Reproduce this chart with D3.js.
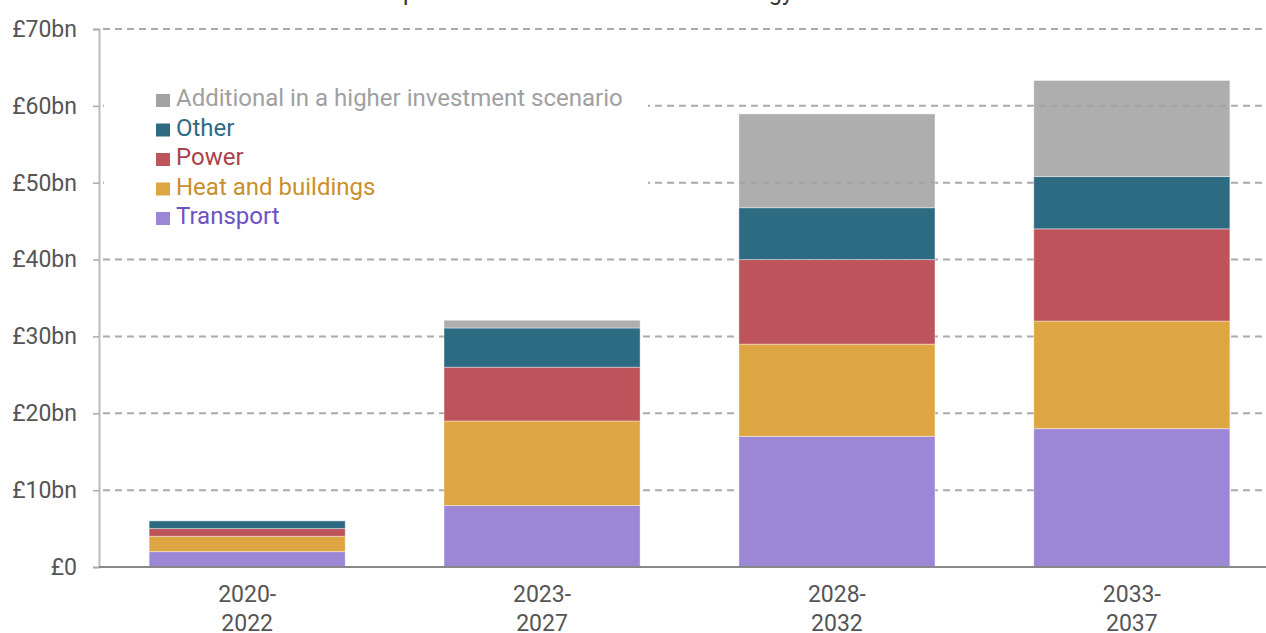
<!DOCTYPE html>
<html>
<head>
<meta charset="utf-8">
<script src="https://cdn.jsdelivr.net/npm/d3@7"></script>
<style>
	body { margin: 0; background: #fff; }
	svg { display: block; font-family: Roboto, "Open Sans", sans-serif; }
</style>
</head>
<body>
<div id="chart"></div>
<script>
const periods = ["2020-2022", "2023-2027", "2028-2032", "2033-2037"];
const transport = [2, 8, 17, 18];
const heat = [2, 11, 12, 14];
const power = [1, 7, 11, 12];
const other = [1, 5.1, 6.75, 6.8];
const additional = [0, 1, 12.2, 12.5];
const yTicks = [0, 10, 20, 30, 40, 50, 60, 70];

const series = [
	{ key: "transport", label: "Transport", values: transport, fill: "#9b87d6", text: "#6d52c4" },
	{ key: "heat", label: "Heat and buildings", values: heat, fill: "#dea642", text: "#c98f2c" },
	{ key: "power", label: "Power", values: power, fill: "#bd545c", text: "#a8434b" },
	{ key: "other", label: "Other", values: other, fill: "#2d6b82", text: "#2d6b82" },
	{ key: "additional", label: "Additional in a higher investment scenario", values: additional, fill: "#a3a3a3", text: "#a0a0a0" }
];

const width = 1266,
	height = 633;

const rows = periods.map((p, i) => {
	const r = { period: p };
	series.forEach((s) => (r[s.key] = s.values[i]));
	return r;
});

const svg = d3
	.select("#chart")
	.append("svg")
	.attr("width", width)
	.attr("height", height);

const x = d3
	.scaleBand()
	.domain(periods)
	.range([99, 1280])
	.paddingInner(0.335)
	.paddingOuter(0.17);

const y = d3.scaleLinear().domain([0, 70]).range([567, 29]);

// title, mostly cut off above the frame
const title = svg
	.append("text")
	.attr("fill", "#333")
	.style("font-size", "24px")
	.text("Annual capital investment in low-carbon energy");
{
	const node = title.node();
	const str = node.textContent;
	const pi = str.indexOf("p");
	const gi = str.indexOf("gy");
	const d0 = node.getStartPositionOfChar(gi).x - node.getStartPositionOfChar(pi).x;
	const fs = 24 * (366 / d0);
	title.style("font-size", fs + "px").attr("y", 6 - 0.25 * fs);
	const px = node.getStartPositionOfChar(pi).x;
	title.attr("x", 403 - px);
}

// gridlines
svg
	.append("g")
	.selectAll("line")
	.data(yTicks.filter((d) => d > 0))
	.join("line")
	.attr("x1", 103)
	.attr("x2", width)
	.attr("y1", (d) => y(d))
	.attr("y2", (d) => y(d))
	.attr("stroke", "#aaa")
	.attr("stroke-width", 2)
	.attr("stroke-dasharray", "7,5");

// stacked bars
const stacked = d3.stack().keys(series.map((s) => s.key))(rows);

svg
	.append("g")
	.selectAll("g")
	.data(stacked)
	.join("g")
	.attr("fill", (d, i) => series[i].fill)
	.attr("fill-opacity", (d, i) => (series[i].key == "additional" ? 0.88 : 1))
	.selectAll("rect")
	.data((d) => d.filter((v) => v[1] - v[0] > 0))
	.join("rect")
	.attr("x", (d) => x(d.data.period))
	.attr("width", x.bandwidth())
	.attr("y", (d) => y(d[1]))
	.attr("height", (d) => y(d[0]) - y(d[1]))
	.attr("stroke", "#fff")
	.attr("stroke-opacity", 0.4)
	.attr("stroke-width", 1);

// y axis
const yAxis = svg
	.append("g")
	.attr("transform", "translate(99,0)")
	.call(
		d3
			.axisLeft(y)
			.tickValues(yTicks)
			.tickSize(6)
			.tickPadding(16)
			.tickFormat((d) => (d == 0 ? "£0" : "£" + d + "bn"))
	);
yAxis.select(".domain").attr("stroke", "#bbb").attr("stroke-width", 2);
yAxis.selectAll(".tick line").attr("stroke", "#aaa").attr("stroke-width", 1.5);
yAxis
	.selectAll(".tick text")
	.attr("fill", "#555")
	.style("font-size", "23px")
	.style("font-family", "Roboto, sans-serif");

// x axis baseline
svg
	.append("line")
	.attr("x1", 99)
	.attr("x2", width)
	.attr("y1", y(0))
	.attr("y2", y(0))
	.attr("stroke", "#888")
	.attr("stroke-width", 2);

// x labels, two lines each
const xl = svg
	.append("g")
	.selectAll("text")
	.data(periods)
	.join("text")
	.attr("text-anchor", "middle")
	.attr("fill", "#555")
	.style("font-size", "23px");
xl.append("tspan")
	.attr("x", (d) => x(d) + x.bandwidth() / 2)
	.attr("y", 602)
	.text((d) => d.split("-")[0] + "-");
xl.append("tspan")
	.attr("x", (d) => x(d) + x.bandwidth() / 2)
	.attr("y", 631)
	.text((d) => d.split("-")[1]);

// legend, on a white box that hides the gridlines behind it
svg
	.append("rect")
	.attr("x", 104)
	.attr("y", 84)
	.attr("width", 544)
	.attr("height", 148)
	.attr("fill", "#fff");

const legend = svg
	.append("g")
	.selectAll("g")
	.data(series.slice().reverse())
	.join("g")
	.attr("transform", (d, i) => `translate(156,${106 + i * 29.5})`);
legend
	.append("rect")
	.attr("y", -12)
	.attr("width", 14)
	.attr("height", 13)
	.attr("fill", (d) => d.fill);
legend
	.append("text")
	.attr("x", 20)
	.attr("fill", (d) => d.text)
	.style("font-size", "24px")
	.text((d) => d.label);
</script>
</body>
</html>
